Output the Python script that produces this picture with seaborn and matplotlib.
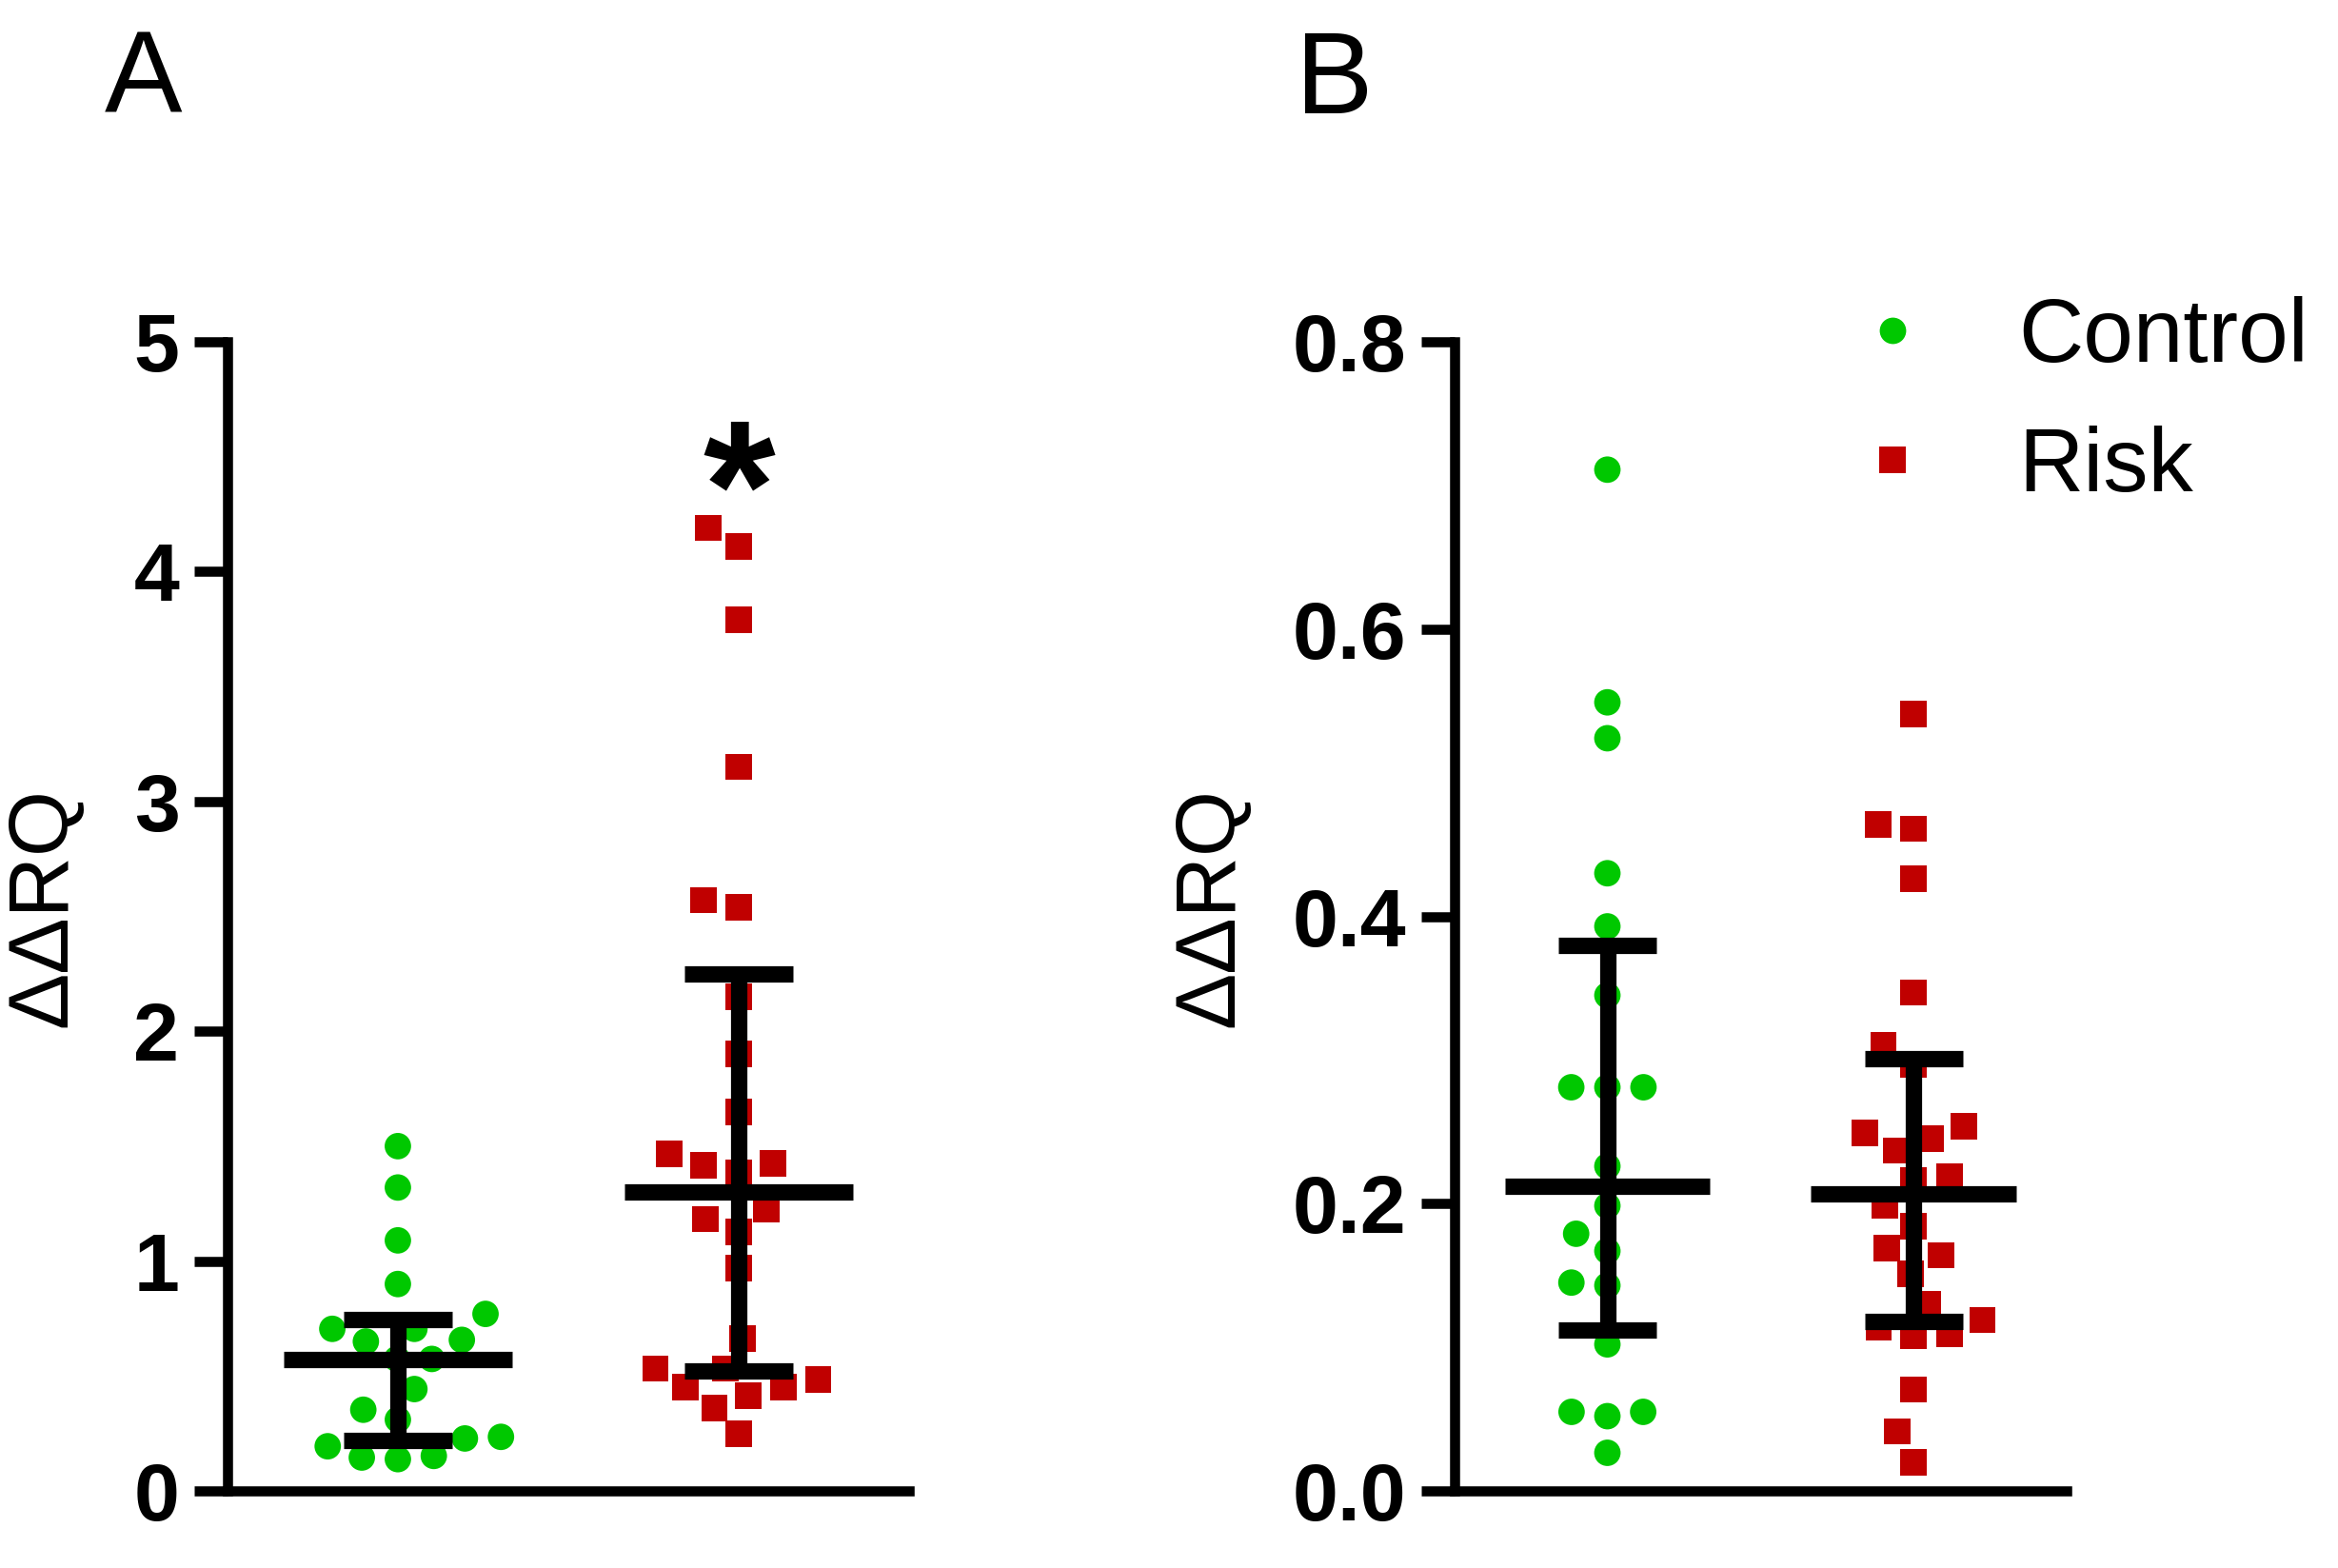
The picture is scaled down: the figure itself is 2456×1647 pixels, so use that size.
import numpy as np
import pandas as pd
import matplotlib
matplotlib.use("Agg")
import matplotlib.pyplot as plt
from matplotlib.lines import Line2D
import seaborn as sns

# ---------------- data ----------------
groups = ["Control", "Risk"]

a_control = [1.50, 1.32, 1.09, 0.90, 0.77, 0.705, 0.65, 0.705, 0.657, 0.574,
             0.574, 0.443, 0.353, 0.31, 0.228, 0.235, 0.194, 0.152, 0.138, 0.145]
a_risk = [4.19, 4.11, 3.79, 3.15, 2.57, 2.54, 2.15, 1.90, 1.65, 1.466, 1.418,
          1.383, 1.425, 1.224, 1.183, 1.127, 0.968, 0.664, 0.532, 0.484, 0.45,
          0.415, 0.36, 0.45, 0.532, 0.249]
b_control = [0.711, 0.549, 0.524, 0.430, 0.393, 0.345, 0.281, 0.281, 0.281,
             0.226, 0.1985, 0.179, 0.167, 0.145, 0.143, 0.102, 0.055, 0.052,
             0.055, 0.0265]
b_risk = [0.541, 0.464, 0.461, 0.426, 0.347, 0.310, 0.297, 0.254, 0.249,
          0.245, 0.237, 0.219, 0.216, 0.1985, 0.184, 0.169, 0.164, 0.151, 0.130,
          0.119, 0.114, 0.109, 0.108, 0.0705, 0.0414, 0.020]

# median with interquartile range (per group)
a_median = [0.57, 1.30]
a_q1 = [0.22, 0.52]
a_q3 = [0.745, 2.25]
b_median = [0.212, 0.2065]
b_q1 = [0.112, 0.118]
b_q3 = [0.380, 0.301]

a_ticks = [0, 1, 2, 3, 4, 5]
a_ticklabels = ["0", "1", "2", "3", "4", "5"]
b_ticks = [0.0, 0.2, 0.4, 0.6, 0.8]
b_ticklabels = ["0.0", "0.2", "0.4", "0.6", "0.8"]
y_label = "ΔΔRQ"
panel_labels = ["A", "B"]
star_text = "*"
star_y = 4.10

# ---------------- style ----------------
colors = {"Control": "#00C800", "Risk": "#C00000"}
markers = {"Control": "o", "Risk": "s"}

sns.set_style("ticks")
plt.rcParams["font.family"] = ["Liberation Sans", "DejaVu Sans"]
plt.rcParams["axes.edgecolor"] = "black"
plt.rcParams["xtick.color"] = "black"
plt.rcParams["ytick.color"] = "black"
plt.rcParams["text.color"] = "black"
plt.rcParams["axes.labelcolor"] = "black"

fig = plt.figure(figsize=(12.28, 8.235), dpi=200)
ax_a = fig.add_axes([0.0973, 0.0492, 0.2915, 0.7328])
ax_b = fig.add_axes([0.622, 0.0492, 0.262, 0.7328])

LW = 3.8
BAR_LW = 6.2


def panel(ax, ctrl, risk, med, q1, q3, ymax, ticks, ticklabels, label_x):
    for g, vals in zip(groups, [ctrl, risk]):
        df = pd.DataFrame({"group": [g] * len(vals), "value": vals})
        sns.swarmplot(data=df, x="group", y="value", order=groups, ax=ax,
                      color=colors[g], marker=markers[g], size=10,
                      linewidth=3.0, zorder=3)
    for coll in ax.collections:
        coll.set_edgecolor("none")
    x = np.arange(len(groups))
    kw = dict(color="black", zorder=5, capstyle="butt")
    ax.hlines(med, x - 0.335, x + 0.335, linewidth=BAR_LW, **kw)
    ax.hlines(q1, x - 0.16, x + 0.16, linewidth=BAR_LW, **kw)
    ax.hlines(q3, x - 0.16, x + 0.16, linewidth=BAR_LW, **kw)
    ax.vlines(x, q1, q3, linewidth=BAR_LW, **kw)

    ax.set_xlim(-0.5, 1.5)
    ax.set_ylim(0, ymax)
    ax.set_yticks(ticks)
    ax.set_yticklabels(ticklabels, fontsize=31, fontweight="bold")
    ax.set_xticks([])
    ax.set_xlabel("")
    ax.set_ylabel(y_label, fontsize=32, fontweight="normal")
    ax.yaxis.set_label_coords(label_x, 0.508)
    ax.tick_params(axis="y", length=12.5, width=LW, pad=5.7)
    sns.despine(ax=ax)
    for s in ["left", "bottom"]:
        ax.spines[s].set_linewidth(LW)
        ax.spines[s].set_capstyle("projecting")
    ax.patch.set_alpha(0)


panel(ax_a, a_control, a_risk, a_median, a_q1, a_q3, 5, a_ticks, a_ticklabels, -0.211)
panel(ax_b, b_control, b_risk, b_median, b_q1, b_q3, 0.8, b_ticks, b_ticklabels, -0.332)

ax_a.text(1, star_y, star_text, ha="center", va="baseline", fontsize=70,
          fontweight="bold")

fig.text(0.0448, 0.928, panel_labels[0], fontsize=44, va="baseline", ha="left")
fig.text(0.5543, 0.928, panel_labels[1], fontsize=44, va="baseline", ha="left")

handles = [Line2D([0], [0], marker=markers[g], color=colors[g], linestyle="none",
                  markersize=10, markeredgewidth=0) for g in groups]
ax_b.legend(handles, groups, loc="upper left", bbox_to_anchor=(0.7904, 0.8112),
            bbox_transform=fig.transFigure, frameon=False, fontsize=34,
            handlelength=1.0, handletextpad=0.90, labelspacing=0.50,
            borderpad=0, borderaxespad=0)

fig.savefig("out.png", dpi=200)
